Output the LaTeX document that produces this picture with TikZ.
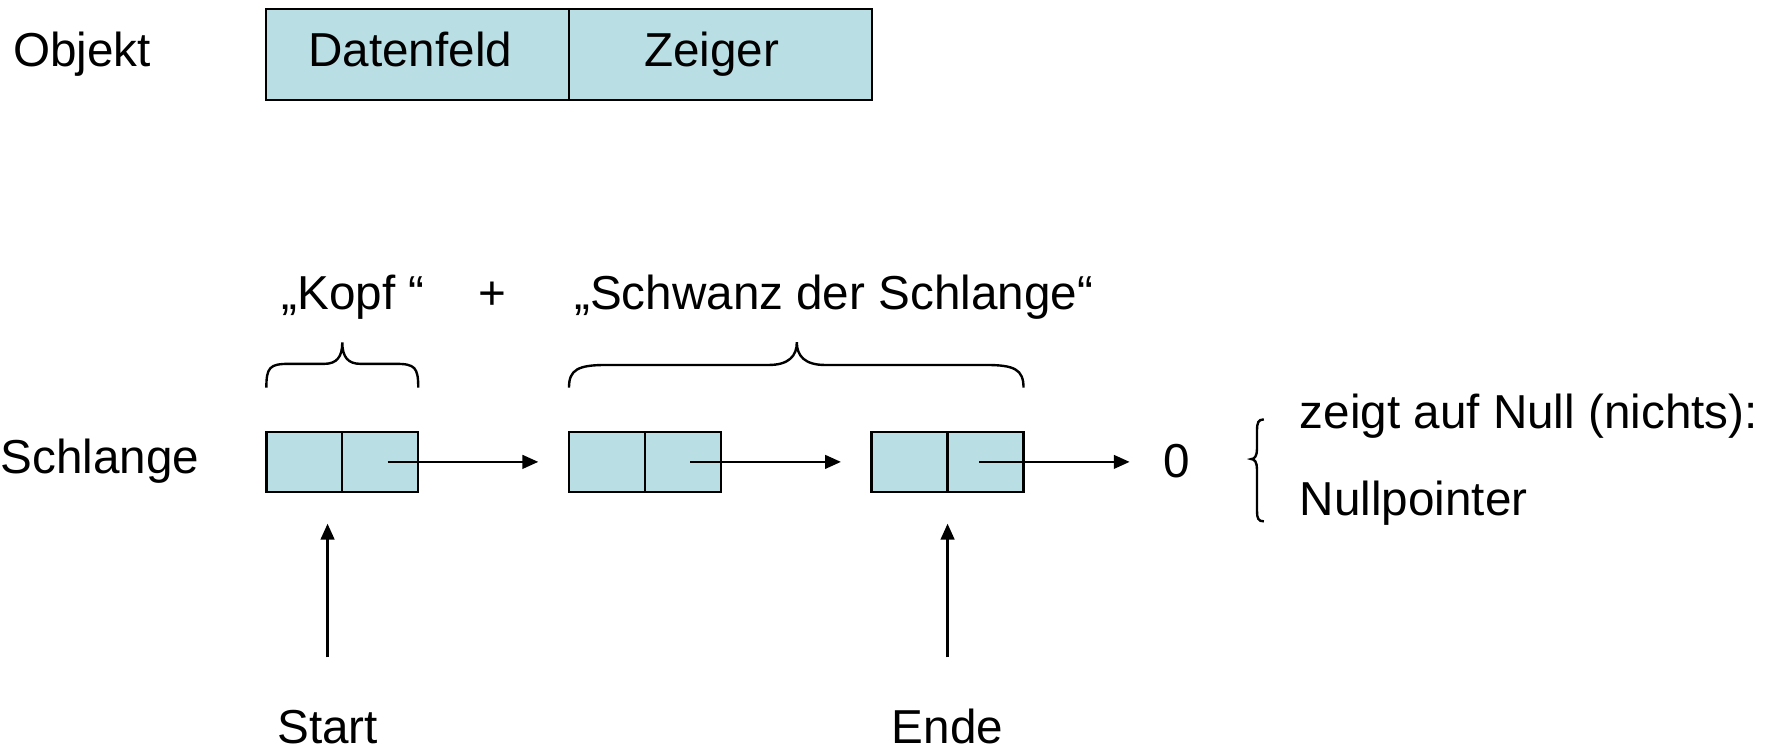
\documentclass[tikz,border=0pt]{standalone}
\usepackage{fontspec}
\setmainfont{Liberation Sans}
\usetikzlibrary{arrows.meta,calc}
\definecolor{cellblue}{RGB}{185,223,228}
\begin{document}
\begin{tikzpicture}[x=0.01cm,y=-0.01cm,
  lbl/.style={inner sep=0,anchor=base west,font=\fontsize{11.95pt}{14pt}\selectfont},
  clbl/.style={inner sep=0,anchor=base,font=\fontsize{11.95pt}{14pt}\selectfont},
  cell/.style={draw,line width=0.6pt,fill=cellblue,inner sep=0,minimum width=0.67cm,minimum height=0.53cm},
  bigcell/.style={draw,line width=0.6pt,fill=cellblue,inner sep=0,minimum width=2.67cm,minimum height=0.80cm,font=\fontsize{11.95pt}{14pt}\selectfont},
  ptr/.style={line width=0.6pt,-{Triangle[length=0.14cm,width=0.12cm]}},
  brc/.style={line width=0.6pt}]
\useasboundingbox (0,0) rectangle (1566,660);
% object
\node[lbl] (obj) at (11,59) {Objekt};
\node[bigcell] (daten) at (368.5,48) {};
\node[bigcell] (zeiger) at (635.5,48) {};
\node[clbl] (datent) at (362,59) {Datenfeld};
\node[clbl] (zeigert) at (628,59) {Zeiger};
% heading
\node[clbl] (kopf) at (311.5,273) {„Kopf “};
\node[clbl] (plus) at (434,273) {+};
\node[clbl] (schwanz) at (735.5,273) {„Schwanz der Schlange“};
% braces
\draw[brc] (235,342) .. controls (235,324) and (238,321) .. (255,321) -- (286,321)
  .. controls (297,321) and (302,315) .. (302,302)
  .. controls (302,315) and (307,321) .. (318,321) -- (349,321)
  .. controls (366,321) and (369,324) .. (369,342);
\draw[brc] (502,342) .. controls (502,326) and (510,322) .. (535,322) -- (678,322)
  .. controls (696,322) and (703,314) .. (703,302)
  .. controls (703,314) and (710,322) .. (728,322) -- (870,322)
  .. controls (895,322) and (903,326) .. (903,342);
% list
\node[lbl] (schl) at (0,418) {Schlange};
\node[cell] (b1l) at (268.5,407.5) {};
\node[cell] (b1r) at (335.5,407.5) {};
\node[cell] (b2l) at (535.5,407.5) {};
\node[cell] (b2r) at (602.5,407.5) {};
\node[cell] (b3l) at (802.5,407.5) {};
\node[cell] (b3r) at (869.5,407.5) {};
\node[clbl] (zero) at (1038,421) {0};
\draw[ptr] ($(b1r.center)+(6.5,0)$) -- ($(b2l.west)+(-26,0)$);
\draw[ptr] ($(b2r.center)+(6.5,0)$) -- ($(b3l.west)+(-26,0)$);
\draw[ptr] ($(b3r.center)+(-6,0)$) -- ($(b3r.center -| zero.west)+(-29,0)$);
% right brace and text
\draw[brc] (1115,370) .. controls (1110,370) and (1109,373) .. (1109,380) -- (1109,396)
  .. controls (1109,402) and (1107,405) .. (1104,405)
  .. controls (1107,405) and (1109,408) .. (1109,414) -- (1109,451)
  .. controls (1109,457) and (1110,460) .. (1115,460);
\node[lbl] (zeigt) at (1146,378) {zeigt auf Null (nichts):};
\node[lbl] (nullp) at (1146,455) {Nullpointer};
% start / ende
\node[clbl] (start) at (289,656) {Start};
\node[clbl] (ende) at (836,656) {Ende};
\coordinate (sfrom) at (289,580);
\coordinate (sto) at (289,462);
\coordinate (efrom) at (836,580);
\coordinate (eto) at (836,462);
\draw[ptr] (sfrom) -- (sto);
\draw[ptr] (efrom) -- (eto);
\end{tikzpicture}
\end{document}
